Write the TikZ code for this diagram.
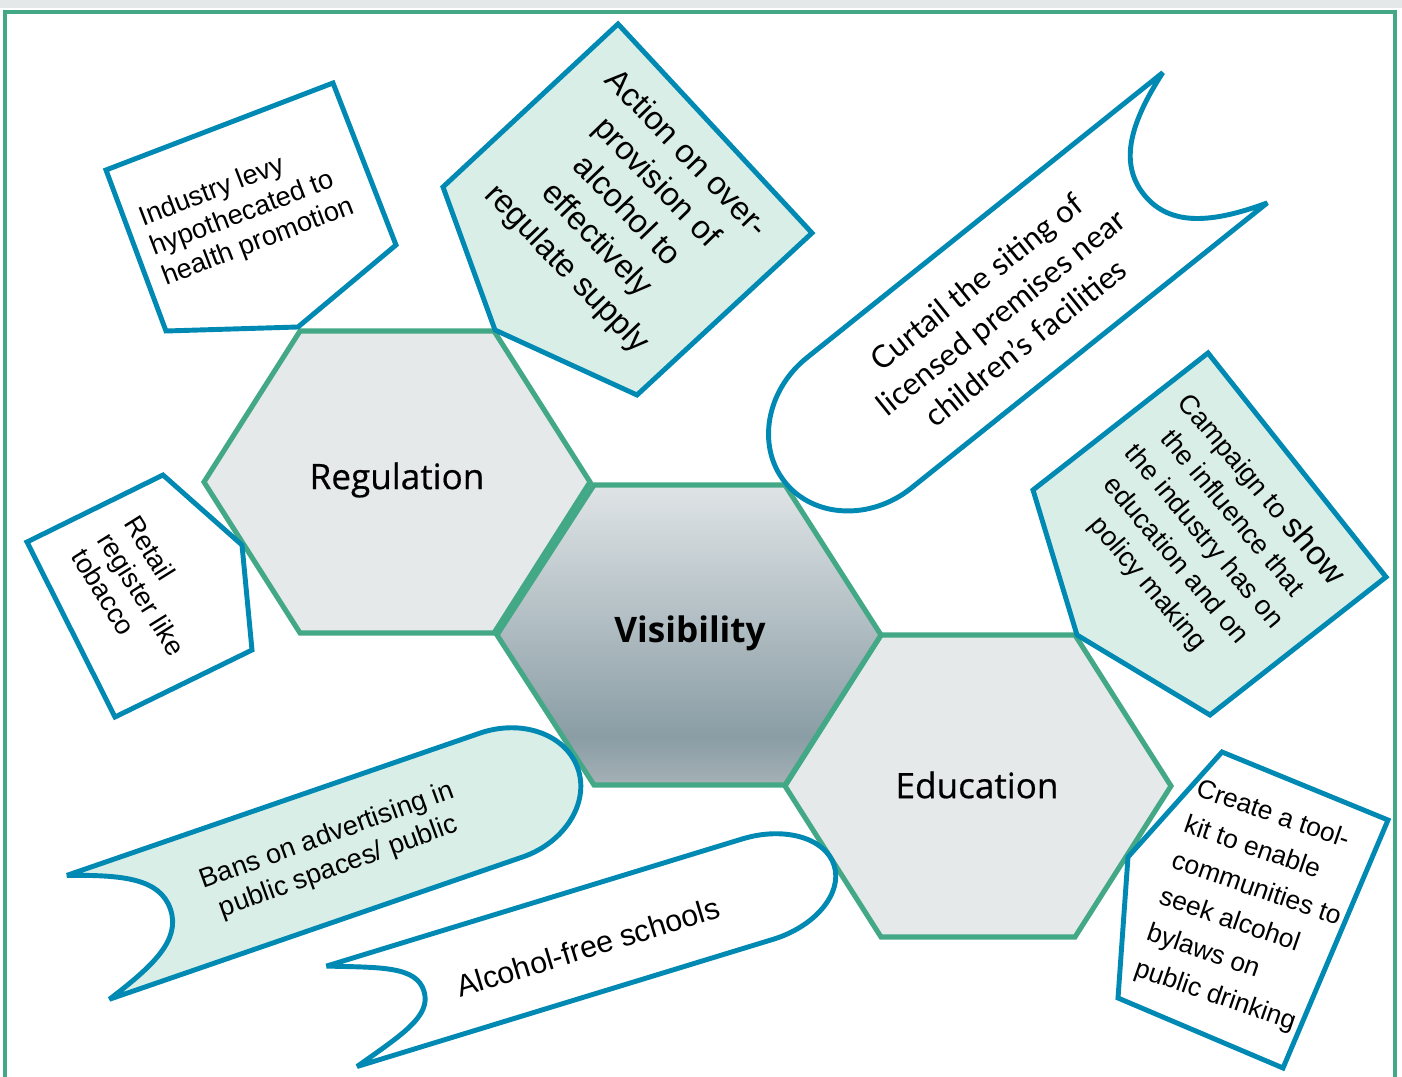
\documentclass[tikz,border=0pt]{standalone}
\usepackage{fontspec}
\setmainfont{Liberation Sans}
\newfontfamily\hexfont{Open Sans}
\newfontfamily\hexmedium[FakeBold=0.5]{Open Sans}
\newfontfamily\bannerfont{Lato}

\definecolor{framegreen}{RGB}{67,168,134}
\definecolor{calloutblue}{RGB}{0,137,178}
\definecolor{mint}{RGB}{217,238,231}
\definecolor{hexgrey}{RGB}{229,233,234}
\definecolor{topband}{RGB}{228,232,233}
\definecolor{vistop}{RGB}{223,228,230}
\definecolor{visdark}{RGB}{138,157,165}
\definecolor{visbot}{RGB}{165,177,182}

% darker towards the bottom, a little lighter again at the very edge
\pgfdeclareverticalshading{visshade}{100bp}{color(0bp)=(visbot); color(25bp)=(visbot);
  color(33bp)=(visdark); color(75bp)=(vistop); color(100bp)=(vistop)}

\tikzset{
  hexcell/.style={draw=framegreen, line width=2.9pt, fill=hexgrey},
  callout/.style={draw=calloutblue, line width=2.8pt, miter limit=3},
  note/.style={inner sep=0pt, align=center},
}

% flag with a round head and a notched tail: length, width, notch depth, head depth
\newcommand{\flagpath}[4]{(-#1/2,-#2/2) -- ({#1/2-#4},-#2/2)
  .. controls ({#1/2-0.45*#4},-#2/2) and (#1/2,{-0.276*#2}) .. (#1/2,0)
  .. controls (#1/2,{0.276*#2}) and ({#1/2-0.45*#4},#2/2) .. ({#1/2-#4},#2/2)
  -- (-#1/2,#2/2)
  .. controls ({-#1/2+0.6*#3},{#2/2-0.2*#3}) and ({-#1/2+#3},{0.25*#2}) .. ({-#1/2+#3},0)
  .. controls ({-#1/2+#3},{-0.25*#2}) and ({-#1/2+0.6*#3},{-#2/2+0.2*#3}) .. cycle}

\begin{document}
\begin{tikzpicture}[x=0.02cm, y=-0.02cm]
  \useasboundingbox (0,0) rectangle (1402,1077);
  \fill[topband] (0,0) rectangle (1402,8);
  \draw[framegreen, line width=2.8pt] (5,1077) -- (5,12) -- (1395,12) -- (1395,1077);

  % the three cells
  \foreach \cx/\cy in {397/482, 978/786}
    \draw[hexcell] (\cx,\cy) ++(-97,-151) -- ++(194,0) -- ++(96,151) -- ++(-96,151) -- ++(-194,0) -- ++(-96,-151) -- cycle;
  \draw[hexcell, shading=visshade] (689,635) ++(-95,-150) -- ++(191,0) -- ++(96,150) -- ++(-96,150) -- ++(-191,0) -- ++(-97,-150) -- cycle;

  \node[font=\hexmedium\fontsize{20}{24}\selectfont] (regulation) at (397,480) {Regulation};
  \node[font=\hexfont\bfseries\fontsize{20}{24}\selectfont] (visibility) at (690,633) {Visibility};
  \node[font=\hexmedium\fontsize{20}{24}\selectfont] (education) at (977,785) {Education};

  % pentagon notes
  \draw[callout, fill=white] (106,170) -- (333,83) -- (396,245) -- (298,327) -- (166,331) -- cycle;
  \draw[callout, fill=mint] (618,24) -- (812,233) -- (637,395) -- (495,330) -- (443,187) -- cycle;
  \draw[callout, fill=mint] (1208,353) -- (1386,577) -- (1210,715) -- (1077,635) -- (1033,490) -- cycle;
  \draw[callout, fill=white] (27,542) -- (163,475) -- (242,545) -- (252,650) -- (115,717) -- cycle;
  \draw[callout, fill=white] (1222,752) -- (1388,820) -- (1283,1068) -- (1118,998) -- (1128,857) -- cycle;

  % flags
  \draw[callout, fill=white, shift={(1000,310)}, rotate=218.7] \flagpath{551}{167}{91}{95};
  \draw[callout, fill=mint, shift={(333,853)}, rotate=19] \flagpath{518}{131}{87}{81};
  \draw[callout, fill=white, shift={(588,941)}, rotate=17] \flagpath{515}{105}{86}{80};

  \node[note, align=left, rotate=21, font=\fontsize{15.5}{18}\selectfont] (levy) at (247,213)
    {Industry levy\\hypothecated to\\health promotion};
  \node[note, rotate=-46, font=\fontsize{18.5}{23.6}\selectfont] (supply) at (626,212)
    {Action on over-\\provision of\\alcohol to\\effectively\\regulate supply};
  \node[note, rotate=-50, font=\fontsize{15.5}{20.8}\selectfont] (campaign) at (1205,536)
    {Campaign to {\fontsize{19}{20}\selectfont show}\\the influence that\\the industry has on\\education and on\\policy making};
  \node[note, align=left, rotate=-58, font=\fontsize{15.5}{17.8}\selectfont] (retail) at (142,594)
    {Retail\\register like\\tobacco};
  \node[note, align=left, rotate=-19, font=\fontsize{15}{21.6}\selectfont] (toolkit) at (1250,908)
    {Create a tool-\\kit to enable\\communities to\\seek alcohol\\bylaws on\\public drinking};
  \node[note, rotate=38.7, font=\bannerfont\fontsize{17.7}{22.2}\selectfont] (siting) at (1001,312)
    {Curtail the siting of\\licensed premises near\\children’s facilities};
  \node[note, rotate=20, font=\fontsize{15.5}{18.8}\selectfont] (adverts) at (333,852)
    {Bans on advertising in\\public spaces/ public};
  \node[note, rotate=17, font=\fontsize{17.3}{20}\selectfont] (schools) at (588,947)
    {Alcohol-free schools};
\end{tikzpicture}
\end{document}
